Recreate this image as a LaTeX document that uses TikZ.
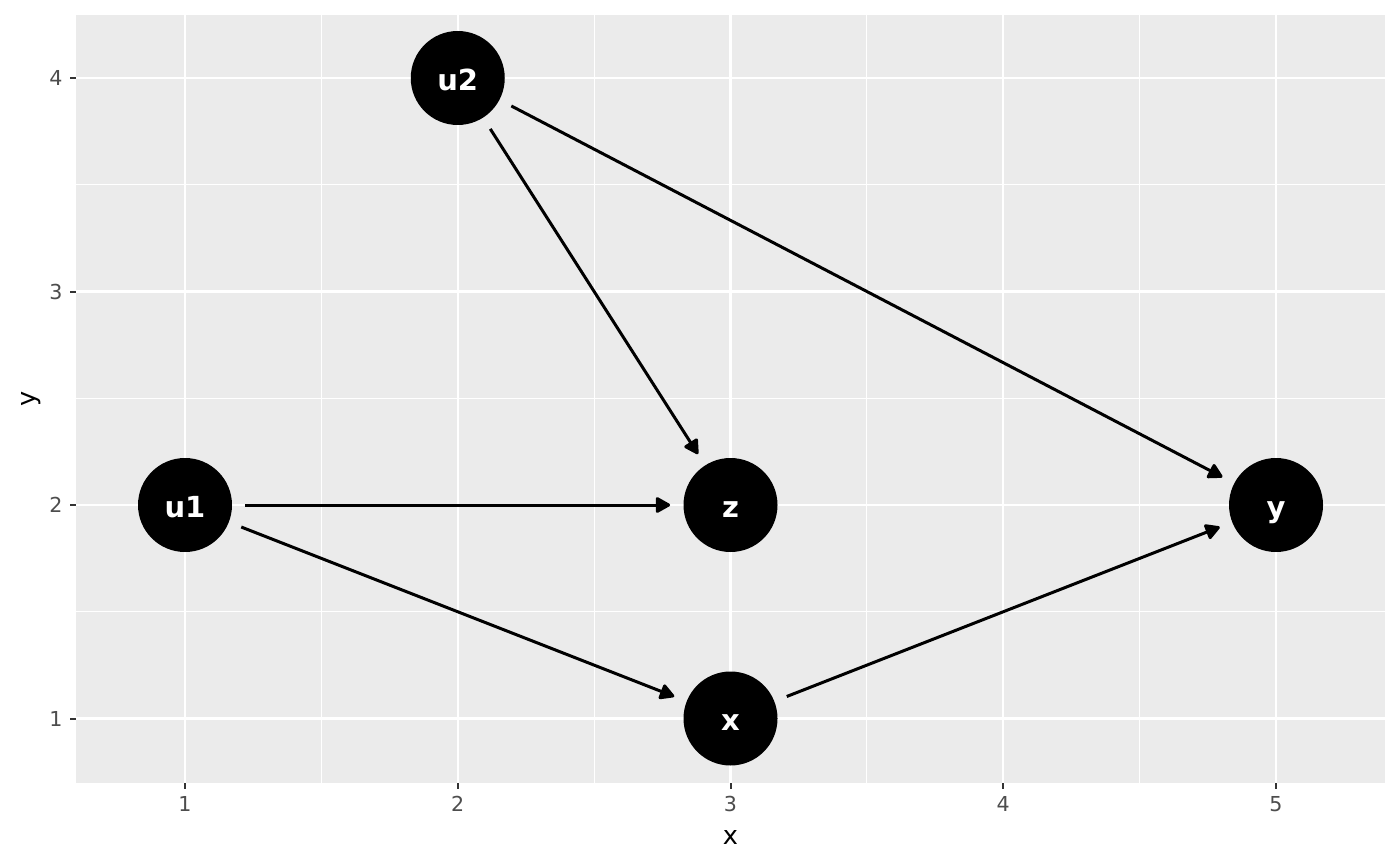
\documentclass[tikz,border=0pt]{standalone}
\usepackage{fontspec}
\setmainfont{DejaVu Sans}
\usetikzlibrary{arrows.meta}
\definecolor{panel}{HTML}{EBEBEB}
\definecolor{tickc}{HTML}{333333}
\definecolor{tickt}{HTML}{4D4D4D}
\tikzset{
  dagnode/.style={circle,fill=black,minimum size=47pt,inner sep=0pt,text=white,font=\fontsize{14.5}{14.5}\selectfont\bfseries,text height=12.3pt,text depth=0pt},
  edge/.style={line width=1.5pt,-{Triangle[length=8pt,width=8.5pt,round]},shorten <=6.5pt,shorten >=6.5pt},
  major/.style={white,line width=1.1pt},
  minor/.style={white,line width=0.55pt},
  ticklab/.style={text=tickt,font=\fontsize{10.3}{10.3}\selectfont,inner sep=0pt},
  tickmark/.style={tickc,line width=1pt},
  axtitle/.style={font=\fontsize{12.8}{12.8}\selectfont,inner sep=0pt}
}
\begin{document}
\begin{tikzpicture}[x=0.5pt,y=-0.5pt]
\useasboundingbox (0,0) rectangle (1400,866);
\fill[white] (0,0) rectangle (1400,866);
\fill[panel] (76,15) rectangle (1385,783);
% minor grid
\foreach \xx in {321.4,594.1,866.9,1139.6} \draw[minor] (\xx,15) -- (\xx,783);
\foreach \yy in {611.75,398.25,184.75} \draw[minor] (76,\yy) -- (1385,\yy);
% major grid
\foreach \xx in {185,457.75,730.5,1003.25,1276} \draw[major] (\xx,15) -- (\xx,783);
\foreach \yy in {718.5,505,291.5,78} \draw[major] (76,\yy) -- (1385,\yy);
% ticks and labels
\foreach \xx/\lab in {185/1,457.75/2,730.5/3,1003.25/4,1276/5}{
  \draw[tickmark] (\xx,783) -- (\xx,789);
  \node[ticklab,anchor=north] at (\xx,796) {\lab};
}
\foreach \yy/\lab in {718.5/1,505/2,291.5/3,78/4}{
  \draw[tickmark] (70,\yy) -- (76,\yy);
  \node[ticklab,anchor=east] at (63,\yy) {\lab};
}
\node[axtitle] (xt) at (730.5,837) {x};
\node[axtitle,rotate=90] (yt) at (31,399) {y};
% nodes
\node[dagnode] (u1) at (185,505) {u1};
\node[dagnode] (u2) at (457.75,78) {u2};
\node[dagnode] (z) at (730.5,505) {z};
\node[dagnode] (x) at (730.5,718.5) {x};
\node[dagnode] (y) at (1276,505) {y};
% edges
\draw[edge] (u1) -- (z);
\draw[edge] (u1) -- (x);
\draw[edge] (u2) -- (z);
\draw[edge] (u2) -- (y);
\draw[edge] (x) -- (y);
\end{tikzpicture}
\end{document}
